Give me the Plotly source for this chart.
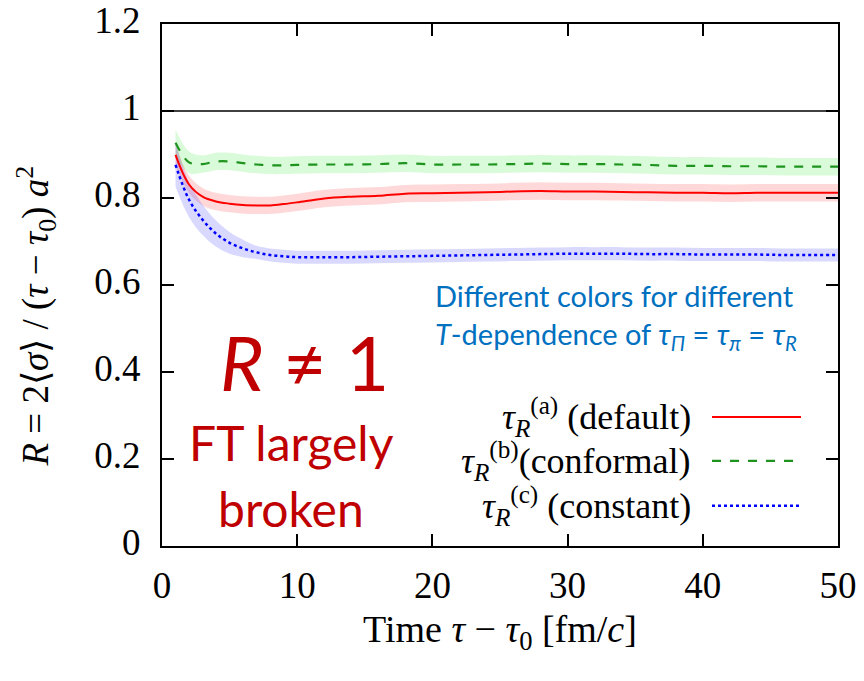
import plotly.graph_objects as go

# ---- data ----
time = [1, 2, 3, 4, 5, 6, 7, 8, 9, 10, 12, 14, 16, 18, 20, 22, 24, 26, 28, 30,
        32, 34, 36, 38, 40, 42, 44, 46, 48, 50]

r_default = [0.899, 0.831, 0.803, 0.792, 0.787, 0.784, 0.783, 0.783, 0.786, 0.790,
             0.799, 0.803, 0.805, 0.810, 0.811, 0.812, 0.813, 0.815, 0.816, 0.815,
             0.815, 0.814, 0.813, 0.812, 0.812, 0.811, 0.812, 0.812, 0.812, 0.812]
err_default = [0.025] + [0.02] * 29

r_conformal = [0.927, 0.882, 0.878, 0.884, 0.884, 0.880, 0.877, 0.875, 0.875, 0.876,
               0.877, 0.877, 0.878, 0.880, 0.877, 0.877, 0.877, 0.878, 0.879, 0.878,
               0.878, 0.877, 0.876, 0.874, 0.874, 0.873, 0.873, 0.872, 0.872, 0.872]
err_conformal = [0.03, 0.025] + [0.02] * 28

r_constant = [0.876, 0.796, 0.750, 0.718, 0.697, 0.684, 0.675, 0.669, 0.666, 0.664,
              0.664, 0.664, 0.665, 0.666, 0.667, 0.668, 0.669, 0.670, 0.671, 0.672,
              0.672, 0.672, 0.671, 0.671, 0.670, 0.670, 0.670, 0.669, 0.669, 0.669]
err_constant = [0.05, 0.04, 0.035, 0.03, 0.025, 0.02] + [0.015] * 24

x_ticks = [0, 10, 20, 30, 40, 50]
y_ticks = [0, 0.2, 0.4, 0.6, 0.8, 1, 1.2]

series = [
    ("default", r_default, err_default, "#ff0000", "rgba(255,0,0,0.15)", "solid", 2),
    ("conformal", r_conformal, err_conformal, "#1e941e", "rgba(0,230,0,0.15)", "dash", 2.2),
    ("constant", r_constant, err_constant, "#0000ff", "rgba(0,0,255,0.15)", "dot", 2.5),
]

SERIF = "Liberation Serif"
fig = go.Figure()

for name, vals, errs, col, fcol, dash, w in series:
    lo = [v - e for v, e in zip(vals, errs)]
    hi = [v + e for v, e in zip(vals, errs)]
    fig.add_trace(go.Scatter(x=time, y=lo, mode="lines", line=dict(width=0, shape="spline"),
                             showlegend=False, hoverinfo="skip"))
    fig.add_trace(go.Scatter(x=time, y=hi, mode="lines", line=dict(width=0, shape="spline"),
                             fill="tonexty", fillcolor=fcol, showlegend=False, hoverinfo="skip"))
for name, vals, errs, col, fcol, dash, w in series:
    fig.add_trace(go.Scatter(x=time, y=vals, mode="lines", name=name,
                             line=dict(color=col, width=w, dash=dash, shape="spline"),
                             showlegend=False))

# horizontal reference line at R = 1
fig.add_hline(y=1, line=dict(color="black", width=1.5))

axis_common = dict(showline=True, linecolor="black", linewidth=2, mirror="allticks",
                   ticks="inside", ticklen=12, tickwidth=1.5, tickcolor="black",
                   showgrid=False, zeroline=False, automargin=False,
                   ticklabeloverflow="allow",
                   tickfont=dict(family=SERIF, size=37, color="black"))

fig.update_xaxes(range=[0, 50], tickvals=x_ticks, **axis_common, ticklabelstandoff=6,
                 title=dict(text="Time <i>τ</i> − <i>τ</i><sub>0</sub> [fm/<i>c</i>]",
                            font=dict(family=SERIF, size=38, color="black"), standoff=10))
fig.update_yaxes(range=[0, 1.2], tickvals=y_ticks, **axis_common, ticklabelstandoff=12,
                 ticklabelshift=-4)

# y-axis title as a rotated annotation, centred on the plot height
fig.add_annotation(x=-0.186, y=0.44, xref="paper", yref="paper", showarrow=False,
                   xanchor="center", yanchor="middle", textangle=-90,
                   text="<i>R</i> = 2⟨<i>σ</i>⟩ / (<i>τ</i> − <i>τ</i><sub>0</sub>) <i>a</i><sup>2</sup>",
                   font=dict(family=SERIF, size=37, color="black"))

# ---- legend drawn manually (text right, sample line right of text) ----
leg_labels = [
    "<i>τ</i><sub><i>R</i></sub><sup>(a)</sup> (default)",
    "<i>τ</i><sub><i>R</i></sub><sup>(b)</sup>(conformal)",
    "<i>τ</i><sub><i>R</i></sub><sup>(c)</sup> (constant)",
]
leg_y = [0.247, 0.163, 0.077]
for (name, vals, errs, col, fcol, dash, w), lab, yy in zip(series, leg_labels, leg_y):
    fig.add_annotation(x=0.7855, y=yy, xref="paper", yref="paper", xanchor="right",
                       yanchor="middle", text=lab, showarrow=False,
                       font=dict(family=SERIF, size=36, color="black"))
    fig.add_shape(type="line", xref="paper", yref="paper", x0=0.8136, x1=0.9453,
                  y0=yy, y1=yy, line=dict(color=col, width=w, dash=dash))

# ---- overlay annotations ----
fig.add_annotation(x=0.401, y=0.44, xref="paper", yref="paper", xanchor="left",
                   yanchor="middle", align="left", showarrow=False,
                   text="Different colors for different<br><i>T</i>-dependence of "
                        "<i>τ</i><sub><i>Π</i></sub> = <i>τ</i><sub><i>π</i></sub> = <i>τ</i><sub><i>R</i></sub>",
                   font=dict(family="Lato", size=29, color="#0070c0"))
fig.add_annotation(x=0.2115, y=0.3525, xref="paper", yref="paper", showarrow=False,
                   xanchor="center", yanchor="middle",
                   text="<i>R</i> ≠ 1", font=dict(family="Lato", size=75, color="#c00000"))
fig.add_annotation(x=0.191, y=0.198, xref="paper", yref="paper", showarrow=False,
                   xanchor="center", yanchor="middle",
                   text="FT largely", font=dict(family="Lato", size=48, color="#c00000"))
fig.add_annotation(x=0.191, y=0.072, xref="paper", yref="paper", showarrow=False,
                   xanchor="center", yanchor="middle",
                   text="broken", font=dict(family="Lato", size=48, color="#c00000"))

# page body has an 8px margin: shrink the figure so the plot frame lands where the reference has it
fig.update_layout(width=856, height=673, plot_bgcolor="white", paper_bgcolor="white",
                  margin=dict(l=154, r=26, t=16, b=135), showlegend=False)

fig.write_html("out.html")
